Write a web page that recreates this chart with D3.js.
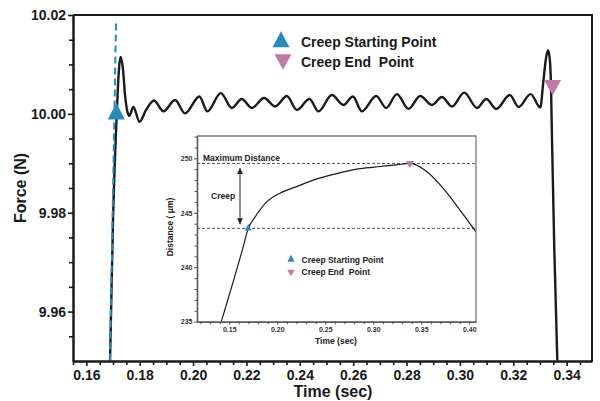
<!DOCTYPE html>
<html>
<head>
<meta charset="utf-8">
<script src="https://cdn.jsdelivr.net/npm/d3@7"></script>
<style>
  html, body { margin: 0; padding: 0; background: #fff; }
  svg { display: block; }
  text { font-family: "Liberation Sans", Arial, Helvetica, sans-serif; font-weight: bold; }
</style>
</head>
<body>
<svg id="chart" width="600" height="401"></svg>
<script>
// ---- Force response (main plot) ----
const forceTime = [
  0.16888, 0.17000, 0.17139, 0.17188, 0.17236, 0.17289, 0.17375, 0.17450, 0.17525, 0.17611,
  0.17761, 0.17994, 0.18238, 0.18538, 0.18886, 0.19325, 0.19700, 0.20236, 0.20536, 0.21039,
  0.21451, 0.21826, 0.22201, 0.22663, 0.23075, 0.23514, 0.23889, 0.24361, 0.24699, 0.25201,
  0.25636, 0.25989, 0.26326, 0.26863, 0.27238, 0.27639, 0.28074, 0.28513, 0.28951, 0.29326,
  0.29701, 0.30163, 0.30639, 0.30988, 0.31363, 0.31869, 0.32199, 0.32649, 0.33013, 0.33126,
  0.33219, 0.33301, 0.33369, 0.33414, 0.33451, 0.33538, 0.33650
];
const forceValue = [
  9.9501, 9.9786, 10.0000, 10.0059, 10.0099, 10.0115, 10.0089, 10.0038, 10.0008, 9.9996,
  10.0014, 9.9984, 10.0008, 10.0027, 10.0005, 10.0028, 10.0001, 10.0035, 10.0005, 10.0042,
  10.0012, 10.0030, 10.0012, 10.0032, 10.0015, 10.0036, 10.0008, 10.0030, 10.0005, 10.0038,
  10.0018, 10.0035, 10.0005, 10.0036, 10.0012, 10.0040, 10.0010, 10.0036, 10.0018, 10.0034,
  10.0015, 10.0043, 10.0012, 10.0030, 10.0010, 10.0038, 10.0014, 10.0040, 10.0013, 10.0065,
  10.0110, 10.0129, 10.0110, 10.0055, 9.9948, 9.9725, 9.9501
];
// tangent of the loading ramp
const tangentTime = [0.16888, 0.171125];
const tangentForce = [9.9501, 10.0184];
// creep start / end markers
const markerTime = [0.17124, 0.33474];
const markerForce = [10.0000, 10.0058];
const markerLabels = ["Creep Starting Point", "Creep End  Point"];

const xTicks = [0.16, 0.18, 0.20, 0.22, 0.24, 0.26, 0.28, 0.30, 0.32, 0.34];
const yTicks = [9.96, 9.98, 10.00, 10.02];

// ---- Distance response (inset) ----
const distTime = [0.1417, 0.1646, 0.1698, 0.1768, 0.1890, 0.2028, 0.2202, 0.2375, 0.2619,
  0.2862, 0.3070, 0.3244, 0.3382, 0.3556, 0.3729, 0.3903, 0.4070];
const distValue = [235.0, 241.9, 243.57, 244.6, 246.0, 246.8, 247.4, 248.0, 248.6,
  249.05, 249.25, 249.4, 249.53, 248.8, 247.25, 245.25, 243.25];
const insetMarkerTime = [0.1698, 0.3382];
const insetMarkerDist = [243.57, 249.53];
const insetXTicks = [0.15, 0.20, 0.25, 0.30, 0.35, 0.40];
const insetYTicks = [235, 240, 245, 250];

const blue = "#2a8bb8", pink = "#c07aa6", ink = "#1a1a1a";

const svg = d3.select("#chart");

// triangle path with centroid at the origin
function tri(w, h, up) {
  const s = up ? 1 : -1;
  return `M0,${-s * 2 * h / 3}L${w / 2},${s * h / 3}L${-w / 2},${s * h / 3}Z`;
}

// ---------- main plot ----------
const x = d3.scaleLinear().domain([0.155, 0.3495]).range([73, 592]);
const y = d3.scaleLinear().domain([9.95, 10.02]).range([361, 15]);

svg.append("clipPath").attr("id", "plotClip")
  .append("rect").attr("x", 73).attr("y", 15).attr("width", 519).attr("height", 346);

const plot = svg.append("g").attr("clip-path", "url(#plotClip)");

const forceLine = d3.line().x(d => x(d[0])).y(d => y(d[1])).curve(d3.curveMonotoneX);
plot.append("path")
  .datum(forceTime.map((t, i) => [t, forceValue[i]]))
  .attr("d", forceLine)
  .attr("fill", "none").attr("stroke", ink).attr("stroke-width", 2.4)
  .attr("stroke-linejoin", "round");

plot.append("line")
  .attr("x1", x(tangentTime[0])).attr("y1", y(tangentForce[0]))
  .attr("x2", x(tangentTime[1])).attr("y2", y(tangentForce[1]))
  .attr("stroke", blue).attr("stroke-width", 2).attr("stroke-dasharray", "7,4");

plot.append("path").attr("d", tri(17, 17, true))
  .attr("transform", `translate(${x(markerTime[0])},${y(markerForce[0])})`).attr("fill", blue);
plot.append("path").attr("d", tri(17, 15.5, false))
  .attr("transform", `translate(${x(markerTime[1])},${y(markerForce[1])})`).attr("fill", pink);

// frame
svg.append("path").attr("d", "M73,15H592V361")
  .attr("fill", "none").attr("stroke", ink).attr("stroke-width", 2);

// axes
const xMinor = d3.range(0.155, 0.3495, 0.005).map(v => +v.toFixed(3))
  .filter(v => !xTicks.some(t => Math.abs(t - v) < 1e-6));
const yMinor = d3.range(9.955, 10.02, 0.005).map(v => +v.toFixed(3))
  .filter(v => !yTicks.some(t => Math.abs(t - v) < 1e-6));

const gxMinor = svg.append("g").attr("transform", "translate(0,361)")
  .call(d3.axisBottom(x).tickValues(xMinor).tickFormat("").tickSize(4).tickSizeOuter(0));
const gx = svg.append("g").attr("transform", "translate(0,361)")
  .call(d3.axisBottom(x).tickValues(xTicks).tickFormat(d3.format(".2f")).tickSize(5).tickSizeOuter(0).tickPadding(4));
const gyMinor = svg.append("g").attr("transform", "translate(73,0)")
  .call(d3.axisLeft(y).tickValues(yMinor).tickFormat("").tickSize(4).tickSizeOuter(0));
const gy = svg.append("g").attr("transform", "translate(73,0)")
  .call(d3.axisLeft(y).tickValues(yTicks).tickFormat(d3.format(".2f")).tickSize(5).tickSizeOuter(0).tickPadding(2));

[gx, gy, gxMinor, gyMinor].forEach(g => {
  g.select(".domain").attr("stroke", ink).attr("stroke-width", 2);
  g.selectAll(".tick line").attr("stroke", ink).attr("stroke-width", 1.6);
  g.selectAll(".tick text").attr("fill", ink).style("font-size", "14px")
    .style("font-family", '"Liberation Sans", Arial, sans-serif').style("font-weight", "bold");
});

svg.append("text").attr("x", 333).attr("y", 397).attr("text-anchor", "middle")
  .style("font-size", "16px").attr("fill", ink).text("Time (sec)");
svg.append("text").attr("transform", "translate(26,188) rotate(-90)").attr("text-anchor", "middle")
  .style("font-size", "16px").attr("fill", ink).text("Force (N)");

// legend
const legend = svg.append("g");
[[281, 42, true, blue, 17, 16, 47.3], [283, 59.5, false, pink, 17, 15.5, 66.7]].forEach((r, i) => {
  legend.append("path").attr("d", tri(r[4], r[5], r[2]))
    .attr("transform", `translate(${r[0]},${r[1]})`).attr("fill", r[3]);
  legend.append("text").attr("x", 301).attr("y", r[6]).attr("xml:space", "preserve")
    .style("white-space", "pre").style("font-size", "14px").attr("fill", ink).text(markerLabels[i]);
});

// ---------- inset ----------
const xi = d3.scaleLinear().domain([0.1164, 0.407]).range([197, 476]);
const yi = d3.scaleLinear().domain([235, 252.05]).range([321.7, 136]);
const inset = svg.append("g");
const gray = "#555", frameGray = "#7a7a7a";

inset.append("rect").attr("x", 197).attr("y", 136).attr("width", 279).attr("height", 185.7).attr("fill", "#fff");

// reference levels
insetMarkerDist.forEach(d => {
  inset.append("line").attr("x1", 197).attr("x2", 476).attr("y1", yi(d)).attr("y2", yi(d))
    .attr("stroke", gray).attr("stroke-width", 1).attr("stroke-dasharray", "3,2");
});

inset.append("clipPath").attr("id", "insetClip")
  .append("rect").attr("x", 197).attr("y", 136).attr("width", 279).attr("height", 185.7);
inset.append("path")
  .datum(distTime.map((t, i) => [t, distValue[i]]))
  .attr("clip-path", "url(#insetClip)")
  .attr("d", d3.line().x(d => xi(d[0])).y(d => yi(d[1])).curve(d3.curveMonotoneX))
  .attr("fill", "none").attr("stroke", ink).attr("stroke-width", 1.2);

inset.append("path").attr("d", tri(7, 6.5, true))
  .attr("transform", `translate(${xi(insetMarkerTime[0])},${yi(insetMarkerDist[0])})`).attr("fill", blue);
inset.append("path").attr("d", tri(8, 7, false))
  .attr("transform", `translate(${xi(insetMarkerTime[1])},${yi(insetMarkerDist[1])})`).attr("fill", pink);

// creep arrow
const defs = svg.append("defs");
defs.append("marker").attr("id", "arrowHead").attr("viewBox", "0 0 10 10")
  .attr("refX", 10).attr("refY", 5).attr("markerWidth", 6).attr("markerHeight", 6)
  .attr("markerUnits", "userSpaceOnUse").attr("orient", "auto-start-reverse")
  .append("path").attr("d", "M0,0L10,5L0,10Z").attr("fill", "#222");
inset.append("line").attr("x1", 240).attr("x2", 240)
  .attr("y1", yi(insetMarkerDist[1]) + 4.5).attr("y2", yi(insetMarkerDist[0]) - 4)
  .attr("stroke", "#222").attr("stroke-width", 1)
  .attr("marker-start", "url(#arrowHead)").attr("marker-end", "url(#arrowHead)");

inset.append("text").attr("x", 211).attr("y", 199).style("font-size", "8.5px").attr("fill", "#222").text("Creep");
inset.append("text").attr("x", 203).attr("y", 160.5).style("font-size", "8.5px").attr("fill", "#222").text("Maximum Distance");

// inset frame + axes
inset.append("path").attr("d", "M197,136H476V321.7").attr("fill", "none")
  .attr("stroke", frameGray).attr("stroke-width", 1.3);

const xiMinor = d3.range(0.12, 0.407, 0.01).map(v => +v.toFixed(2))
  .filter(v => !insetXTicks.some(t => Math.abs(t - v) < 1e-6));
const yiMinor = d3.range(236, 253, 1).filter(v => !insetYTicks.includes(v));

const gxi2 = inset.append("g").attr("transform", "translate(0,321.7)")
  .call(d3.axisBottom(xi).tickValues(xiMinor).tickFormat("").tickSize(2.5).tickSizeOuter(0));
const gxi = inset.append("g").attr("transform", "translate(0,321.7)")
  .call(d3.axisBottom(xi).tickValues(insetXTicks).tickFormat(d3.format(".2f")).tickSize(3).tickSizeOuter(0).tickPadding(2));
const gyi2 = inset.append("g").attr("transform", "translate(197,0)")
  .call(d3.axisLeft(yi).tickValues(yiMinor).tickFormat("").tickSize(2.5).tickSizeOuter(0));
const gyi = inset.append("g").attr("transform", "translate(197,0)")
  .call(d3.axisLeft(yi).tickValues(insetYTicks).tickFormat(d3.format("d")).tickSize(3).tickSizeOuter(0).tickPadding(1.5));
[gxi, gyi, gxi2, gyi2].forEach(g => {
  g.select(".domain").attr("stroke", gray).attr("stroke-width", 1.3);
  g.selectAll(".tick line").attr("stroke", gray).attr("stroke-width", 1);
  g.selectAll(".tick text").attr("fill", "#333").style("font-size", "7px")
    .style("font-family", '"Liberation Sans", Arial, sans-serif').style("font-weight", "bold");
});

inset.append("text").attr("x", 336).attr("y", 343.5).attr("text-anchor", "middle")
  .style("font-size", "8.5px").attr("fill", "#222").text("Time (sec)");
inset.append("text").attr("transform", "translate(173,227) rotate(-90)").attr("text-anchor", "middle")
  .attr("xml:space", "preserve").style("white-space", "pre")
  .style("font-size", "8.5px").attr("fill", "#222").text("Distance ( \u03bcm)");

// inset legend
[[291, 259.5, true, blue, 7, 7, 262.7], [291, 272, false, pink, 7.5, 6.5, 275]].forEach((r, i) => {
  inset.append("path").attr("d", tri(r[4], r[5], r[2]))
    .attr("transform", `translate(${r[0]},${r[1]})`).attr("fill", r[3]);
  inset.append("text").attr("x", 301.5).attr("y", r[6]).attr("xml:space", "preserve")
    .style("white-space", "pre").style("font-size", "8.5px").attr("fill", "#222").text(markerLabels[i]);
});
</script>
</body>
</html>
